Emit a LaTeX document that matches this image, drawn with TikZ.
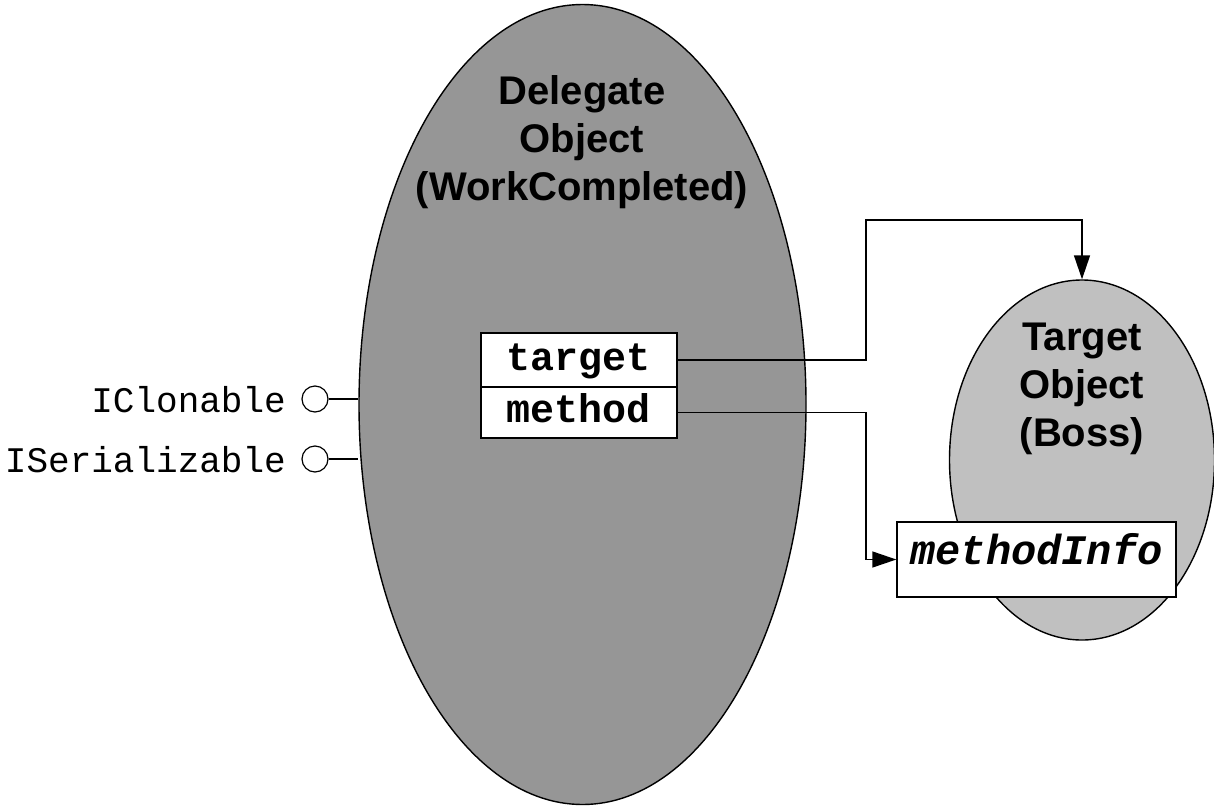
\documentclass[tikz,border=0pt]{standalone}
\usepackage{fontspec}
\setmainfont{Liberation Sans}
\setmonofont{Liberation Mono}
\usetikzlibrary{shapes.geometric,arrows.meta}

\definecolor{delegategray}{RGB}{150,150,150}
\definecolor{targetgray}{RGB}{192,192,192}

\tikzset{
  objshape/.style={ellipse, draw=black, line width=1.4pt, inner sep=0pt},
  objtitle/.style={anchor=base, inner sep=0pt, font=\fontsize{40}{48}\selectfont\bfseries},
  field/.style={draw=black, fill=white, line width=1.4pt, inner sep=0pt,
    minimum width=196pt, font=\fontsize{40}{40}\selectfont\ttfamily\bfseries,
    text height=28pt, text depth=8pt},
  iface/.style={circle, draw=black, fill=white, line width=1.2pt,
    minimum size=26pt, inner sep=0pt},
  ifacelabel/.style={anchor=base east, inner sep=0pt,
    font=\fontsize{36}{36}\selectfont\ttfamily},
  conn/.style={line width=1.4pt},
  tipped/.style={conn, -{Triangle[length=24pt,width=16pt]}}
}

\begin{document}
\begin{tikzpicture}[x=1pt, y=-1pt]
\useasboundingbox (0,0) rectangle (1214,811);

% the two objects
\node[objshape, fill=delegategray, minimum width=447pt, minimum height=800pt]
  (delegate) at (582.5,404.5) {};
\node[objshape, fill=targetgray, minimum width=265pt, minimum height=360pt]
  (boss) at (1082,460) {};

% object titles
\node[objtitle] (dlgA) at (582,104) {Delegate};
\node[objtitle] (dlgB) at (582,152) {Object};
\node[objtitle] (dlgC) at (582,200) {(WorkCompleted)};
\node[objtitle] (bossA) at (1082,350) {Target};
\node[objtitle] (bossB) at (1082,398) {Object};
\node[objtitle] (bossC) at (1082,446) {(Boss)};

% delegate fields
\node[field, minimum height=54pt] (target) at (579,360) {target};
\node[field, minimum height=51pt] (method) at (579,412.5) {method};

% method info inside the target object
\node[draw=black, fill=white, line width=1.4pt, inner sep=0pt,
  minimum width=279pt, minimum height=75pt,
  font=\fontsize{42}{42}\selectfont\ttfamily\bfseries\itshape,
  text height=22pt, text depth=12pt] (minfo) at (1036.5,559.5) {methodInfo};

% implemented interfaces
\node[iface] (clon) at (315,399) {};
\node[iface] (ser) at (315,459) {};
\node[ifacelabel] (clonlbl) at (286,412) {IClonable};
\node[ifacelabel] (serlbl) at (286,472) {ISerializable};
\draw[conn] (clon.east) -- (clon.east -| delegate.west);
\draw[conn] (ser.east) -- (ser.east -| delegate.west);

% references held by the delegate
\coordinate (tbend) at (866,220);
\coordinate (mbend) at (866,559.5);
\draw[tipped] (target.east) -| (tbend) -| (boss.north);
\draw[tipped] (method.east) -| (mbend) -- (minfo.west);
\end{tikzpicture}
\end{document}
